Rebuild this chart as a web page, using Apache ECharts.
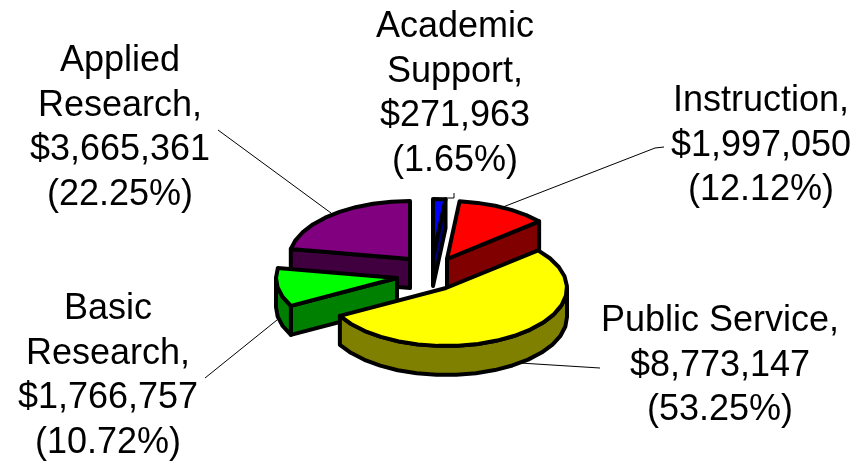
<!DOCTYPE html>
<html><head><meta charset="utf-8">
<style>html,body{margin:0;padding:0;background:#fff}#c{width:856px;height:461px}</style>
<script src="https://cdn.jsdelivr.net/npm/echarts@6/dist/echarts.min.js"></script>
</head><body><div id="c"></div>
<script>
var categories = ['Academic\nSupport,', 'Instruction,', 'Public Service,', 'Basic\nResearch,', 'Applied\nResearch,'];
var amounts = [271963, 1997050, 8773147, 1766757, 3665361];
var amountLabels = ['$271,963', '$1,997,050', '$8,773,147', '$1,766,757', '$3,665,361'];
var percentLabels = ['(1.65%)', '(12.12%)', '(53.25%)', '(10.72%)', '(22.25%)'];

/* styling and layout, separate from the data */
var topColors = ['#0000ff', '#ff0000', '#ffff00', '#00ff00', '#800080'];
var sideColors = ['#000080', '#800000', '#808000', '#008000', '#400040'];
var apexes = [[433, 257], [447, 259], [446, 288], [397, 278], [410, 259]];
var paintRank = [1, 2, 4, 3, 0];
var labelCenters = [[455, 94], [761, 146], [720, 366], [108, 376], [120, 128]];
var leaders = [
  [[454, 193], [454, 198], [445, 198]],
  [[664, 147], [655, 148], [503, 207]],
  [[600, 368], [520, 363]],
  [[205, 378], [277, 320]],
  [[218, 130], [331, 213]]
];
var RX = 121, RY = 58, DEPTH = 29, STROKE = 4, ARC_STEP = 10;
var total = amounts.reduce(function (a, b) { return a + b; }, 0);

function pt(apex, deg, dy) {
  var r = deg * Math.PI / 180;
  return [apex[0] + RX * Math.sin(r), apex[1] - RY * Math.cos(r) + (dy || 0)];
}
function arc(apex, a0, a1, dy) {
  var pts = [], n = Math.max(1, Math.ceil((a1 - a0) / ARC_STEP));
  for (var i = 0; i <= n; i++) pts.push(pt(apex, a0 + (a1 - a0) * i / n, dy));
  return pts;
}
function face(points, fill, z2) {
  return { type: 'polygon', z2: z2, shape: { points: points },
    style: { fill: fill, stroke: '#000', lineWidth: STROKE, lineJoin: 'round' } };
}
function edgeWall(apex, deg) {
  var o = pt(apex, deg);
  return [apex, o, [o[0], o[1] + DEPTH], [apex[0], apex[1] + DEPTH]];
}
function renderItem(params, api) {
  var i = params.dataIndex, before = 0;
  for (var k = 0; k < i; k++) before += amounts[k];
  var a0 = before / total * 360, a1 = (before + api.value(0)) / total * 360;
  var apex = apexes[i], base = paintRank[i] * 10 + 1, kids = [];
  if (Math.sin(a0 * Math.PI / 180) < 0) kids.push(face(edgeWall(apex, a0), sideColors[i], base));
  if (Math.sin(a1 * Math.PI / 180) > 0) kids.push(face(edgeWall(apex, a1), sideColors[i], base));
  var w0 = Math.max(a0, 90), w1 = Math.min(a1, 270);
  if (w1 > w0) kids.push(face(arc(apex, w0, w1, 0).concat(arc(apex, w0, w1, DEPTH).reverse()), sideColors[i], base + 1));
  kids.push(face([apex].concat(arc(apex, a0, a1, 0)), topColors[i], base + 2));
  kids.push({ type: 'polyline', z2: 60, shape: { points: leaders[i] },
    style: { fill: null, stroke: '#000', lineWidth: 1 } });
  kids.push({ type: 'text', z2: 70, x: labelCenters[i][0], y: labelCenters[i][1],
    style: { text: categories[i] + '\n' + amountLabels[i] + '\n' + percentLabels[i],
      font: '36px "Liberation Sans", Arial, sans-serif', lineHeight: 44.5,
      fill: '#000', align: 'center', verticalAlign: 'middle' } });
  return { type: 'group', children: kids };
}
var chart = echarts.init(document.getElementById('c'), null, { renderer: 'canvas' });
chart.setOption({
  animation: false,
  backgroundColor: '#ffffff',
  series: [{ type: 'custom', coordinateSystem: 'none', renderItem: renderItem,
    data: amounts.map(function (v) { return [v]; }) }]
});
</script></body></html>
